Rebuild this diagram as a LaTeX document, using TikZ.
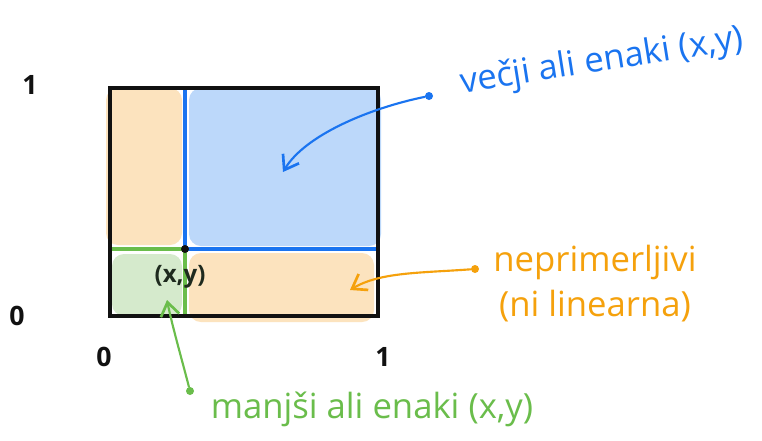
\documentclass[tikz,border=0pt]{standalone}
\usepackage{fontspec}
\setmainfont{Open Sans}
\usepackage{tikz}
\usetikzlibrary{arrows.meta,positioning}
\definecolor{PoBlue}{HTML}{1A74F0}
\definecolor{PoBlueFill}{HTML}{BCD8FA}
\definecolor{PoOrange}{HTML}{F5A10C}
\definecolor{PoOrangeFill}{HTML}{FCE3BE}
\definecolor{PoGreen}{HTML}{6ABD4B}
\definecolor{PoGreenFill}{HTML}{D5EACC}
\definecolor{PoInk}{HTML}{111111}
\definecolor{PoDark}{HTML}{1E2A1E}

\begin{document}
\begin{tikzpicture}[
  x=0.75pt, y=-0.75pt,
  hand/.style={font=\fontsize{26}{30}\selectfont, inner sep=1pt, align=center},
  digit/.style={font=\fontsize{20}{24}\selectfont\bfseries, color=PoInk, inner sep=0pt},
  region/.style={rounded corners=9pt},
  dotmark/.style={circle, inner sep=0pt, minimum size=6pt},
  pointer/.style={line width=1.6pt, line cap=round,
                  -{Straight Barb[length=10pt, width=14pt, line width=2pt]}},
]

% --- Canvas ---
\fill[white] (0,0) rectangle (762,440);
\useasboundingbox (0,0) rectangle (762,440);

% --- Shaded regions ---
\fill[PoOrangeFill, region] (106,88) rectangle (182,245);
\fill[PoBlueFill, region] (189,88) rectangle (381,246);
\fill[PoOrangeFill, region] (189,253) rectangle (374,322);
\fill[PoGreenFill, region] (112,254) rectangle (182,316);

% --- Unit square and the point ---
\coordinate (sqSW) at (110,316);
\coordinate (sqNE) at (378,88);
\coordinate (pt) at (185,249);

\draw[PoBlue, line width=2.6pt] (pt |- sqNE) -- (pt) -- (pt -| sqNE);
\draw[PoGreen, line width=2.6pt] (pt -| sqSW) -- (pt) -- (pt |- sqSW);
\draw[PoInk, line width=2.3pt] (sqSW) rectangle (sqNE);
\node[dotmark, fill=PoInk] (ptdot) at (pt) {};
\node[font=\fontsize{18}{21}\selectfont\bfseries, color=PoDark] (ptlabel) at (180,277) {(x,y)};

% Axis marks
\node[digit] (yone) at (30,85) {1};
\node[digit] (yzero) at (17,316) {0};
\node[digit] (xzero) at (104,357) {0};
\node[digit] (xone) at (383,357) {1};

% --- Labels ---
\node[hand, color=PoBlue, rotate=9] (vecji) at (602,62) {večji ali enaki (x,y)};
\node[hand, color=PoOrange] (neprim) at (595,262) {neprimerljivi};
\node[hand, color=PoOrange, below=6pt of neprim.south] (nilin) {(ni linearna)};
\node[hand, color=PoGreen] (manjsi) at (372,409) {manjši ali enaki (x,y)};

% --- Pointers ---
\node[dotmark, fill=PoBlue] (vecdot) at (429,96) {};
\coordinate (vectip) at (283,172);
\draw[PoBlue, pointer] (vecdot) .. controls (370,108) and (305,135) .. (vectip);

\node[dotmark, fill=PoOrange] (nepdot) at (475,269) {};
\coordinate (neptip) at (350,290);
\draw[PoOrange, pointer] (nepdot) .. controls (420,273) and (380,272) .. (neptip);

\node[dotmark, fill=PoGreen] (mandot) at (190,391) {};
\coordinate (mantip) at (167,300);
\draw[PoGreen, pointer] (mandot) .. controls (182,360) and (172,325) .. (mantip);

\end{tikzpicture}
\end{document}
